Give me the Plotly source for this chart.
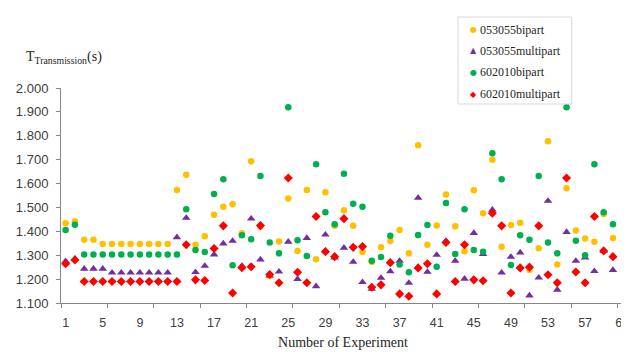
import plotly.graph_objects as go

experiments = list(range(1, 61))

bipart_053055 = [1.434, 1.441, 1.365, 1.365, 1.347, 1.347, 1.347, 1.347, 1.347, 1.347,
                 1.347, 1.347, 1.573, 1.637, 1.344, 1.379, 1.469, 1.503, 1.513, 1.392,
                 1.693, 1.420, 1.213, 1.357, 1.537, 1.318, 1.573, 1.283, 1.564, 1.423,
                 1.488, 1.423, 1.313, 1.272, 1.333, 1.360, 1.406, 1.308, 1.760, 1.344,
                 1.424, 1.554, 1.421, 1.317, 1.572, 1.476, 1.700, 1.335, 1.426, 1.436,
                 1.238, 1.329, 1.777, 1.261, 1.580, 1.403, 1.370, 1.356, 1.473, 1.372]

multipart_053055 = [1.275, 1.285, 1.243, 1.243, 1.243, 1.227, 1.227, 1.227, 1.227, 1.227,
                    1.227, 1.227, 1.375, 1.456, 1.229, 1.255, 1.303, 1.349, 1.360, 1.255,
                    1.453, 1.282, 1.215, 1.231, 1.356, 1.200, 1.372, 1.170, 1.386, 1.290,
                    1.331, 1.272, 1.187, 1.159, 1.205, 1.232, 1.276, 1.184, 1.540, 1.230,
                    1.301, 1.360, 1.276, 1.201, 1.393, 1.305, 1.490, 1.227, 1.293, 1.311,
                    1.131, 1.206, 1.527, 1.155, 1.397, 1.276, 1.290, 1.233, 1.318, 1.238]

bipart_602010 = [1.406, 1.428, 1.303, 1.303, 1.303, 1.303, 1.303, 1.303, 1.303, 1.303,
                 1.303, 1.303, 1.303, 1.492, 1.322, 1.314, 1.556, 1.618, 1.258, 1.384,
                 1.367, 1.632, 1.353, 1.308, 1.919, 1.363, 1.297, 1.681, 1.480, 1.430,
                 1.641, 1.515, 1.503, 1.277, 1.293, 1.382, 1.261, 1.229, 1.385, 1.427,
                 1.252, 1.519, 1.305, 1.492, 1.322, 1.315, 1.727, 1.618, 1.259, 1.384,
                 1.365, 1.632, 1.353, 1.308, 1.919, 1.361, 1.300, 1.681, 1.480, 1.430]

multipart_602010 = [1.264, 1.280, 1.190, 1.190, 1.190, 1.190, 1.190, 1.190, 1.190, 1.190,
                    1.190, 1.190, 1.190, 1.344, 1.197, 1.194, 1.328, 1.423, 1.142, 1.248,
                    1.252, 1.424, 1.219, 1.185, 1.623, 1.229, 1.185, 1.462, 1.315, 1.294,
                    1.453, 1.333, 1.336, 1.166, 1.176, 1.269, 1.138, 1.128, 1.247, 1.264,
                    1.138, 1.353, 1.190, 1.344, 1.197, 1.193, 1.476, 1.423, 1.142, 1.247,
                    1.250, 1.423, 1.218, 1.185, 1.623, 1.230, 1.185, 1.462, 1.318, 1.294]

series_names = ["053055bipart", "053055multipart", "602010bipart", "602010multipart"]
series_colors = ["#FFC000", "#7030A0", "#00B050", "#FF0000"]
x_tick_vals = list(range(1, 62, 4))
y_tick_vals = [1.1, 1.2, 1.3, 1.4, 1.5, 1.6, 1.7, 1.8, 1.9, 2.0]
y_tick_text = ["%.3f" % v for v in y_tick_vals]

# plot-area geometry (pixels)
W, H = 629, 352
L, R, T, B = 50, 8, 80, 57
PW, PH = W - L - R, H - T - B


def px_x(p):
    return (p - L) / PW


def px_y(p):
    return (H - B - p) / PH


styles = [("circle", 6.5), ("triangle-up", 7.5), ("circle", 6.5), ("diamond", 7)]
values = [bipart_053055, multipart_053055, bipart_602010, multipart_602010]

fig = go.Figure()
for name, vals, color, (symbol, size) in zip(series_names, values, series_colors, styles):
    fig.add_trace(go.Scatter(
        x=experiments, y=vals, mode="markers", name=name, showlegend=False,
        marker=dict(color=color, symbol=symbol, size=size, line=dict(width=0)),
    ))

# custom legend: box + glyph + label
legend_glyphs = ["●", "▲", "●", "◆"]
legend_rows_y = [21.7, 42.7, 64.0, 86.0]
annotations = []
for name, color, glyph, ry in zip(series_names, series_colors, legend_glyphs, legend_rows_y):
    annotations.append(dict(
        text=glyph, xref="paper", yref="paper", x=px_x(468), y=px_y(ry),
        xanchor="center", yanchor="middle", showarrow=False,
        font=dict(family="DejaVu Sans", size=8, color=color),
    ))
    annotations.append(dict(
        text=name, xref="paper", yref="paper", x=px_x(472), y=px_y(ry),
        xanchor="left", yanchor="middle", showarrow=False,
        font=dict(family="Liberation Serif", size=12, color="#262626"),
    ))

annotations.append(dict(
    text="T<sub>Transmission</sub>(s)", xref="paper", yref="paper",
    x=px_x(13), y=px_y(50), xanchor="left", yanchor="middle",
    showarrow=False,
    font=dict(family="Liberation Serif", size=14, color="#262626"),
))

fig.update_layout(
    width=W, height=H,
    margin=dict(l=L, r=R, t=T, b=B),
    paper_bgcolor="white", plot_bgcolor="white",
    showlegend=False,
    shapes=[dict(
        type="rect", xref="paper", yref="paper",
        x0=px_x(452), x1=px_x(567), y0=px_y(96), y1=px_y(9),
        line=dict(color="#D9D9D9", width=1), fillcolor="white", layer="above",
    )],
    annotations=annotations,
    xaxis=dict(
        range=[0.5, 61.3], tickmode="array", tickvals=x_tick_vals,
        ticks="outside", ticklen=8, tickcolor="rgba(0,0,0,0)",
        ticklabeloverflow="allow",
        showgrid=False, zeroline=False,
        showline=True, linecolor="#868686", linewidth=1,
        tickfont=dict(family="Liberation Sans", size=12.5, color="#404040"),
        minor=dict(tick0=0.5, dtick=5, ticks="outside", ticklen=4,
                   tickcolor="#868686", showgrid=False),
        title=dict(text="Number of Experiment", standoff=8,
                   font=dict(family="Liberation Serif", size=14, color="#262626")),
    ),
    yaxis=dict(
        range=[1.1, 2.0], tickmode="array", tickvals=y_tick_vals, ticktext=y_tick_text,
        ticks="outside", ticklen=4, tickcolor="#868686",
        ticklabelstandoff=5,
        showgrid=False, zeroline=False,
        showline=True, linecolor="#868686", linewidth=1,
        tickfont=dict(family="Liberation Sans", size=13, color="#404040"),
    ),
)

fig.write_html("out.html")
